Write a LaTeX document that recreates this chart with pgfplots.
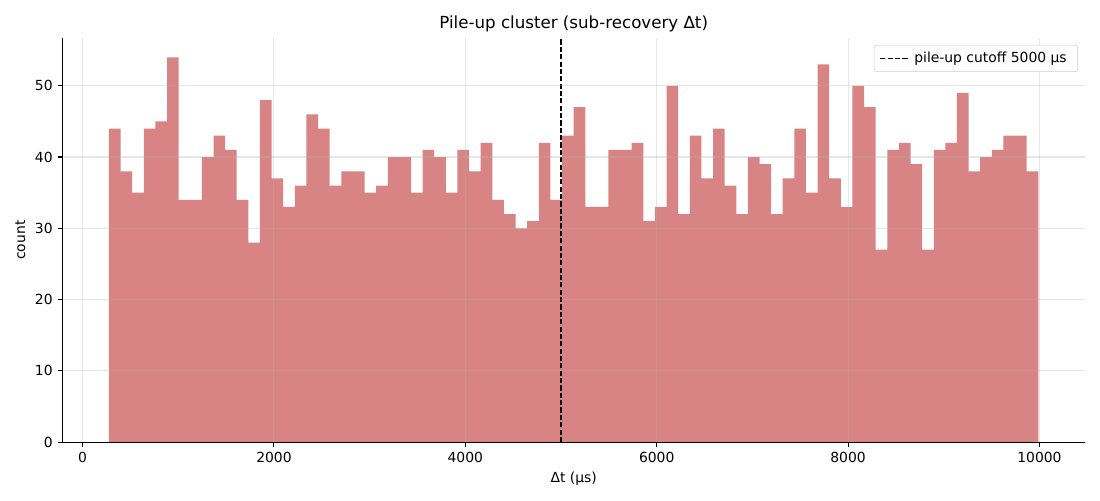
\documentclass[border=0pt]{standalone}
\usepackage{pgfplots}
\pgfplotsset{compat=1.18}
\usepackage{fontspec}
\setmainfont{DejaVu Sans}
\definecolor{barred}{RGB}{217,132,132}
\definecolor{gridgray}{RGB}{176,176,176}
\begin{document}
\begin{tikzpicture}
\path[use as bounding box] (-44.9pt,-41.8pt) rectangle (747.1pt,318.3pt);
\begin{axis}[
  at={(0pt,0pt)}, anchor=south west,
  scale only axis, width=736.3pt, height=290.9pt,
  xmin=-211, xmax=10476, ymin=0, ymax=56.7,
  axis x line*=bottom, axis y line*=left,
  axis line style={-, line width=0.8pt, black},
  tick align=outside, major tick length=3.5pt,
  tick style={line width=0.8pt, black},
  xtick={0,2000,4000,6000,8000,10000},
  ytick={0,10,20,30,40,50},
  scaled x ticks=false, scaled y ticks=false,
  /pgf/number format/.cd, 1000 sep={}, assume math mode=true, /pgfplots/.cd,
  ticklabel style={font=\fontsize{10}{12}\selectfont},
  grid=major,
  major grid style={draw=gridgray, opacity=0.3, line width=0.8pt},
  axis on top,
  title={Pile-up cluster (sub-recovery Δt)},
  title style={font=\fontsize{12}{14}\selectfont, yshift=-5pt},
  xlabel={Δt (μs)}, ylabel={count},
  label style={font=\fontsize{10}{12}\selectfont},
  legend style={at={(0.9932,0.983)}, anchor=north east, draw={rgb,255:red,204;green,204;blue,204},
    rounded corners=2pt, font=\fontsize{10}{12}\selectfont, inner xsep=4pt, inner ysep=3pt,
    nodes={inner xsep=4pt}},
  legend image code/.code={\draw[#1] (0pt,0pt) -- (20pt,0pt);},
  legend cell align=left,
]
\addplot[ybar interval, fill=barred, draw=none, forget plot] coordinates {
(276,44) (397.4,38) (518.8,35) (640.2,44) (761.6,45) (883,54) (1004.4,34) (1125.8,34)
(1247.2,40) (1368.6,43) (1490,41) (1611.4,34) (1732.8,28) (1854.2,48) (1975.6,37) (2097,33)
(2218.4,36) (2339.8,46) (2461.2,44) (2582.6,36) (2704,38) (2825.4,38) (2946.8,35) (3068.2,36)
(3189.6,40) (3311,40) (3432.4,35) (3553.8,41) (3675.2,40) (3796.6,35) (3918,41) (4039.4,38)
(4160.8,42) (4282.2,34) (4403.6,32) (4525,30) (4646.4,31) (4767.8,42) (4889.2,34) (5010.6,43)
(5132,47) (5253.4,33) (5374.8,33) (5496.2,41) (5617.6,41) (5739,42) (5860.4,31) (5981.8,33)
(6103.2,50) (6224.6,32) (6346,43) (6467.4,37) (6588.8,44) (6710.2,36) (6831.6,32) (6953,40)
(7074.4,39) (7195.8,32) (7317.2,37) (7438.6,44) (7560,35) (7681.4,53) (7802.8,37) (7924.2,33)
(8045.6,50) (8167,47) (8288.4,27) (8409.8,41) (8531.2,42) (8652.6,39) (8774,27) (8895.4,41)
(9016.8,42) (9138.2,49) (9259.6,38) (9381,40) (9502.4,41) (9623.8,43) (9745.2,43) (9866.6,38)
(9988,38)
};
\addplot[black, line width=1pt, dash pattern=on 3.7pt off 1.6pt] coordinates {(5000,0) (5000,56.7)};
\addlegendentry{pile-up cutoff 5000 μs}
\end{axis}
\end{tikzpicture}
\end{document}
